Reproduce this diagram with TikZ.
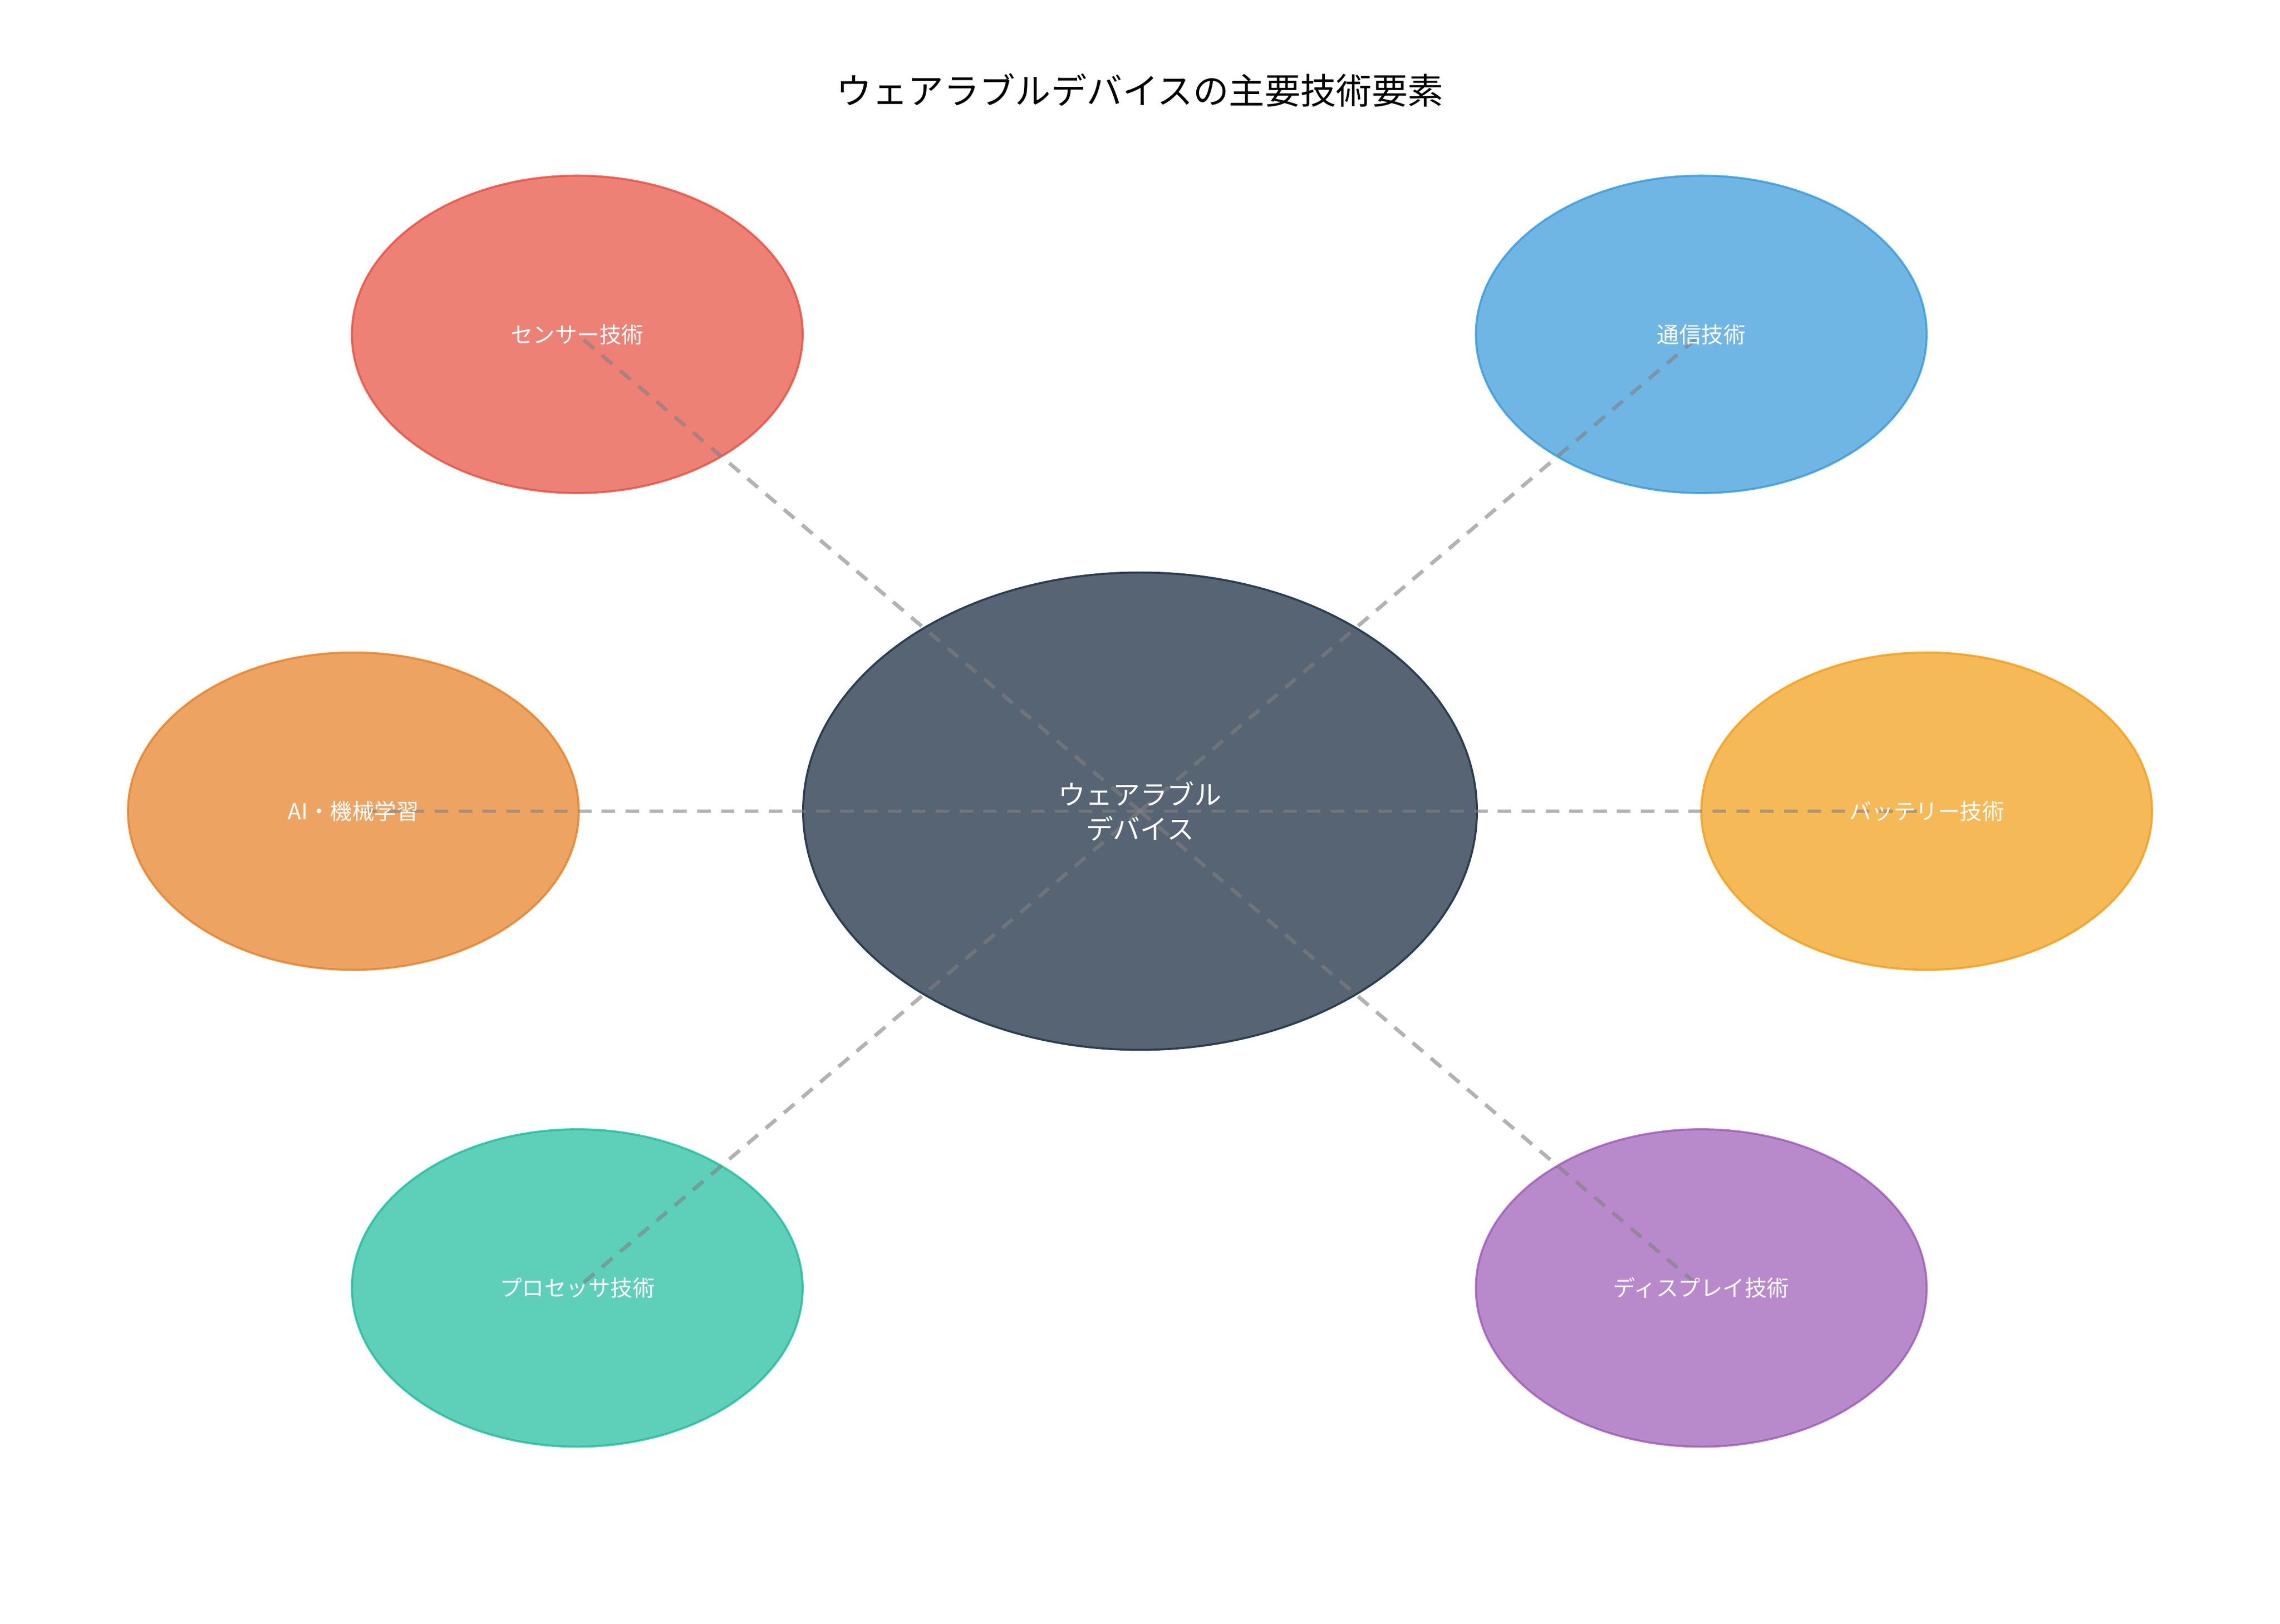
\documentclass[tikz,border=0pt]{standalone}
\usepackage{fontspec}
\setmainfont{Noto Sans CJK JP}
\usetikzlibrary{shapes.geometric}
\definecolor{sensorc}{HTML}{E74C3C}
\definecolor{commc}{HTML}{3498DB}
\definecolor{aic}{HTML}{E67E22}
\definecolor{battc}{HTML}{F39C12}
\definecolor{procc}{HTML}{1ABC9C}
\definecolor{dispc}{HTML}{9B59B6}
\definecolor{hubc}{HTML}{2C3E50}
\tikzset{
  tech/.style={ellipse, draw=#1, fill=#1, fill opacity=0.7, draw opacity=0.8, line width=1.2pt,
    minimum width=9.3cm, minimum height=6.55cm, inner sep=0pt},
  link/.style={dashed, line width=2.2pt, gray, draw opacity=0.6, dash pattern=on 8pt off 6pt},
  lbl/.style={text=white, font=\fontsize{13}{15}\selectfont}
}
\begin{document}
\begin{tikzpicture}[x=0.03cm,y=-0.03cm]
\useasboundingbox (0,0) rectangle (1568,1117);
\fill[white] (0,0) rectangle (1568,1117);
\node (title) at (784,62) {\fontsize{21}{25}\selectfont ウェアラブルデバイスの主要技術要素};

\node[tech=sensorc] (sensor) at (397,230) {};
\node[tech=commc] (comm) at (1170,230) {};
\node[tech=aic] (ai) at (243,558) {};
\node[tech=battc] (batt) at (1325,558) {};
\node[tech=procc] (proc) at (397,886) {};
\node[tech=dispc] (disp) at (1170,886) {};
\node[ellipse, draw=hubc, fill=hubc, fill opacity=0.8, line width=1.2pt,
  minimum width=13.9cm, minimum height=9.85cm] (hub) at (784,558) {};

\foreach \t in {sensor,comm,ai,batt,proc,disp}
  \draw[link] (hub.center) -- (\t.center);

\node[lbl] (sensorlbl) at (sensor) {センサー技術};
\node[lbl] (commlbl) at (comm) {通信技術};
\node[lbl] (ailbl) at (ai) {AI・機械学習};
\node[lbl] (battlbl) at (batt) {バッテリー技術};
\node[lbl] (proclbl) at (proc) {プロセッサ技術};
\node[lbl] (displbl) at (disp) {ディスプレイ技術};
\node[text=white, align=center, font=\fontsize{16}{20}\selectfont] (hublbl) at (hub) {ウェアラブル\\デバイス};
\end{tikzpicture}
\end{document}
